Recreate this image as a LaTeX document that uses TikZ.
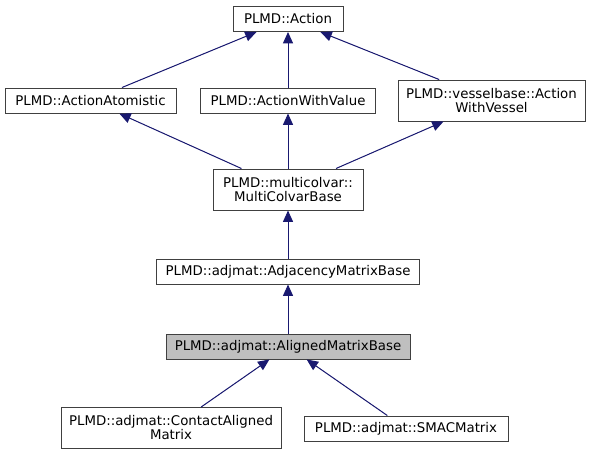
\documentclass[tikz,border=0pt]{standalone}
\usepackage{fontspec}
\setmainfont{DejaVu Sans}
\usetikzlibrary{arrows.meta}
\definecolor{midnightblue}{HTML}{191970}
\definecolor{boxline}{HTML}{404040}
\definecolor{boxfill}{HTML}{BFBFBF}
\tikzset{
    cls/.style={draw=boxline, line width=0.75pt, fill=white, inner sep=0pt,
        minimum height=18.75pt, align=center,
        font=\fontsize{10}{10.5}\selectfont},
    cls2/.style={cls, minimum height=30.75pt},
    current/.style={cls, fill=boxfill},
    inherit/.style={draw=midnightblue, line width=0.75pt,
        -{Triangle[length=8.5pt, width=7.5pt]}, fill=midnightblue}
}
\begin{document}
\begin{tikzpicture}[x=0.75pt, y=-0.75pt]
        \useasboundingbox (0,0) rectangle (595,455);
        \node[cls, minimum width=82.5pt] (action) at (288,19) {PLMD::Action};
        \node[cls, minimum width=128.25pt] (atomistic) at (90.5,100.5) {PLMD::ActionAtomistic};
        \node[cls, minimum width=131.25pt] (withvalue) at (288,100.5) {PLMD::ActionWithValue};
        \node[cls2, minimum width=140.25pt] (withvessel) at (491.5,100.5) {PLMD::vesselbase::Action\\WithVessel};
        \node[cls2, minimum width=112.5pt] (multicolvar) at (288,189.5) {PLMD::multicolvar::\\MultiColvarBase};
        \node[cls, minimum width=197.25pt] (adjacency) at (288,271.5) {PLMD::adjmat::AdjacencyMatrixBase};
        \node[current, minimum width=183pt] (aligned) at (288,346.5) {PLMD::adjmat::AlignedMatrixBase};
        \node[cls2, minimum width=165pt] (contact) at (171,428) {PLMD::adjmat::ContactAligned\\Matrix};
        \node[cls, minimum width=153pt] (smac) at (406,428.5) {PLMD::adjmat::SMACMatrix};

        \draw[inherit] (atomistic) -- (action);
        \draw[inherit] (withvalue) -- (action);
        \draw[inherit] (withvessel) -- (action);
        \draw[inherit] (multicolvar) -- (atomistic);
        \draw[inherit] (multicolvar) -- (withvalue);
        \draw[inherit] (multicolvar) -- (withvessel);
        \draw[inherit] (adjacency) -- (multicolvar);
        \draw[inherit] (aligned) -- (adjacency);
        \draw[inherit] (contact) -- (aligned);
        \draw[inherit] (smac) -- (aligned);
    \end{tikzpicture}
\end{document}
